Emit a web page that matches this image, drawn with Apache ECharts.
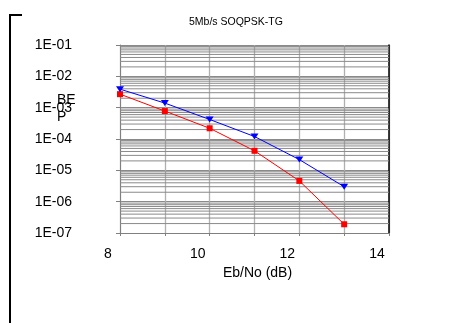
<!DOCTYPE html>
<html>
<head>
<meta charset="utf-8">
<script src="https://cdn.jsdelivr.net/npm/echarts@6/dist/echarts.min.js"></script>
<style>html,body{margin:0;padding:0;background:#fff;}#c{width:466px;height:323px;}</style>
</head>
<body>
<div id="c"></div>
<script>
var ebno = [8, 9, 10, 11, 12, 13];
var blueBer = [3.9e-3, 1.4e-3, 4.2e-4, 1.2e-4, 2.2e-5, 3.0e-6];
var redBer = [2.7e-3, 7.8e-4, 2.2e-4, 4.2e-5, 4.6e-6, 1.9e-7];
var xTickLabels = [8, 10, 12, 14];
var decadeExponents = [-7, -6, -5, -4, -3, -2];
var minorMultipliers = [2, 3, 4, 5, 6, 7, 8, 9];

var FONT = 'Liberation Sans, Arial, sans-serif';
var minorLines = [];
decadeExponents.forEach(function (e) {
  minorMultipliers.forEach(function (m) {
    minorLines.push([8, m * Math.pow(10, e)]);
  });
});

var chart = echarts.init(document.getElementById('c'), null, { renderer: 'canvas' });
chart.setOption({
  animation: false,
  backgroundColor: '#fff',
  title: {
    text: '5Mb/s SOQPSK-TG',
    left: 189, top: 17, padding: 0,
    textStyle: { fontSize: 10.5, fontWeight: 'normal', color: '#000', fontFamily: FONT }
  },
  grid: { left: 120, right: 77, top: 45, bottom: 90, show: false },
  xAxis: {
    type: 'value', min: 8, max: 14, interval: 1,
    name: 'Eb/No (dB)', nameLocation: 'middle', nameGap: 30,
    nameTextStyle: { fontSize: 14, color: '#000', fontFamily: FONT, padding: [0, 0, 0, 6] },
    axisLine: { show: true, lineStyle: { color: '#808080', width: 1 } },
    axisTick: { show: true, inside: false, length: 3, lineStyle: { color: '#808080' } },
    axisLabel: {
      margin: 14, fontSize: 14, color: '#000', fontFamily: FONT, padding: [0, 24, 0, 0],
      formatter: function (v) { return xTickLabels.indexOf(v) >= 0 ? String(v) : ''; }
    },
    splitLine: { show: true, lineStyle: { color: '#b0b0b0', width: 1.3 } }
  },
  yAxis: [{
    type: 'log', logBase: 10, min: 1e-7, max: 1e-1,
    axisLine: { show: true, lineStyle: { color: '#808080', width: 1 } },
    axisTick: { show: true, inside: false, length: 4, lineStyle: { color: '#808080' } },
    axisLabel: {
      margin: 48, fontSize: 14, color: '#000', fontFamily: FONT,
      formatter: function (v) {
        var e = Math.round(Math.log10(v));
        var a = Math.abs(e);
        return '1E' + (e < 0 ? '-' : '+') + (a < 10 ? '0' : '') + a;
      }
    },
    splitLine: { show: true, lineStyle: { color: '#8a8a8a', width: 1 } }
  }, {
    type: 'log', logBase: 10, min: 1e-7, max: 1e-1, position: 'right',
    axisLine: { show: true, lineStyle: { color: '#000', width: 1.5 } },
    axisTick: { show: false }, axisLabel: { show: false }, splitLine: { show: false }
  }],
  graphic: [
    { type: 'polyline', shape: { points: [[22, 15], [10, 15], [10, 323]] },
      style: { stroke: '#000', lineWidth: 2, fill: null }, silent: true },
    { type: 'text', x: 57, y: 100,
      style: { text: 'BE', font: '14px ' + FONT, fill: '#000', textVerticalAlign: 'middle', verticalAlign: 'middle' } },
    { type: 'text', x: 57, y: 117,
      style: { text: 'P', font: '14px ' + FONT, fill: '#000', textVerticalAlign: 'middle', verticalAlign: 'middle' } }
  ],
  series: [
    {
      type: 'custom', name: 'minorGrid', silent: true, z: 1,
      data: minorLines,
      encode: { x: 0, y: 1 },
      renderItem: function (params, api) {
        var v = api.value(1);
        var p1 = api.coord([8, v]);
        var p2 = api.coord([14, v]);
        return {
          type: 'line',
          shape: { x1: p1[0], y1: p1[1], x2: p2[0], y2: p2[1] },
          style: { stroke: '#8a8a8a', lineWidth: 1 }
        };
      }
    },
    {
      type: 'line', name: 'red',
      data: ebno.map(function (x, i) { return [x, redBer[i]]; }),
      symbol: 'rect', symbolSize: 6, showSymbol: true,
      itemStyle: { color: '#ff0000' },
      lineStyle: { color: '#ff0000', width: 1 }, z: 3
    },
    {
      type: 'line', name: 'blue',
      data: ebno.map(function (x, i) { return [x, blueBer[i]]; }),
      symbol: 'triangle', symbolRotate: 180, symbolSize: [8, 6], showSymbol: true,
      itemStyle: { color: '#0000ff' },
      lineStyle: { color: '#0000ff', width: 1 }, z: 4
    }
  ]
});
</script>
</body>
</html>
